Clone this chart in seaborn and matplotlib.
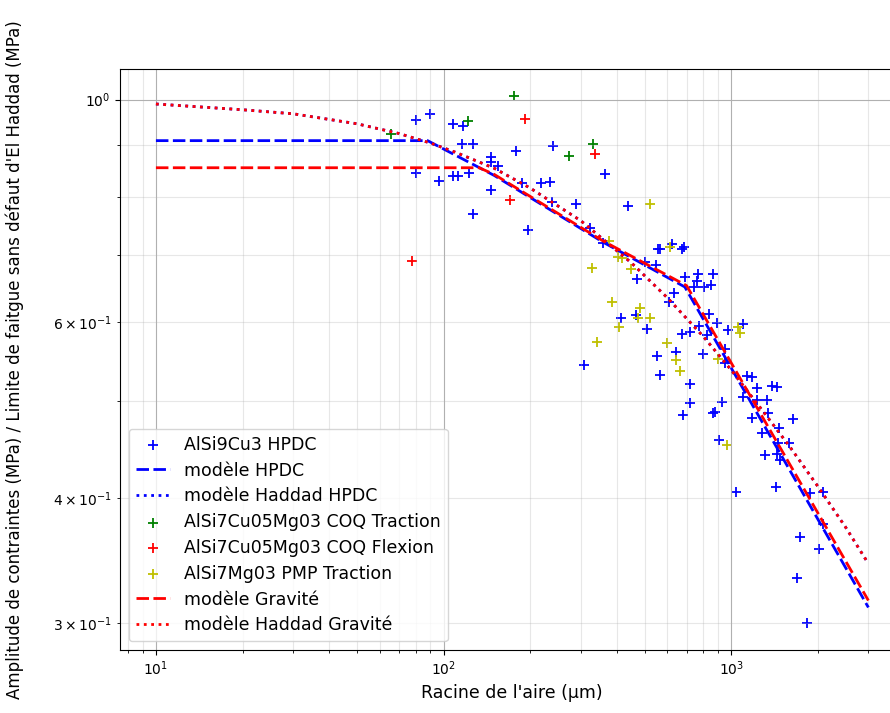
import matplotlib
matplotlib.use('Agg')
import matplotlib.pyplot as plt
import seaborn as sns
import pandas as pd

# Points expérimentaux : racine de l'aire (µm) et contrainte normalisée
hpdc_x = [80.5, 89.4, 107.5, 117.3, 115.5, 126.1, 80.0, 96.1, 107.5, 112.7,
          123.0, 146.8, 146.8, 155.2, 146.8, 127.1, 179.3, 188.0, 218.8, 235.3,
          241.0, 238.9, 289.7, 197.3, 365.2, 323.6, 359.5, 438.7, 557.9, 567.0,
          623.7, 676.0, 687.0, 502.5, 549.4, 471.8, 692.0, 767.7, 865.9, 762.0,
          744.3, 805.4, 852.2, 634.0, 609.5, 415.0, 467.7, 511.0, 839.0, 894.0,
          977.0, 1101, 676.0, 720.0, 774.0, 825.0, 799.0, 644.0, 553.0, 309.0,
          567.0, 720.0, 720.0, 681.0, 866.0, 880.0, 930.0, 953.0, 1137, 1183,
          1231, 1101, 1183, 953.0, 908.0, 1040, 1231, 1334, 1388, 1445,
          1343, 1282, 1468, 1641, 1589, 1456, 1445, 1479, 1312, 1433,
          1880, 2086, 2086, 1738, 2021, 1694, 1836]
hpdc_y = [0.955, 0.968, 0.946, 0.942, 0.904, 0.904, 0.845, 0.830, 0.839, 0.838,
          0.845, 0.877, 0.867, 0.859, 0.813, 0.769, 0.889, 0.826, 0.826, 0.828,
          0.898, 0.791, 0.787, 0.741, 0.843, 0.745, 0.719, 0.783, 0.710, 0.710,
          0.718, 0.710, 0.713, 0.689, 0.684, 0.662, 0.665, 0.670, 0.670, 0.659,
          0.650, 0.650, 0.653, 0.641, 0.628, 0.605, 0.610, 0.590, 0.611, 0.598,
          0.589, 0.597, 0.583, 0.586, 0.594, 0.582, 0.557, 0.560, 0.555, 0.543,
          0.531, 0.520, 0.498, 0.484, 0.486, 0.487, 0.499, 0.564, 0.530, 0.528,
          0.515, 0.505, 0.481, 0.546, 0.457, 0.406, 0.501, 0.501, 0.518, 0.516,
          0.486, 0.465, 0.470, 0.480, 0.454, 0.454, 0.443, 0.437, 0.442, 0.410,
          0.405, 0.406, 0.377, 0.366, 0.356, 0.333, 0.300]

coq_trac_x = [65.5, 121.2, 176.4, 273.8, 331.7]
coq_trac_y = [0.923, 0.951, 1.009, 0.879, 0.904]

coq_flex_x = [77.4, 192.6, 170.9, 337.2]
coq_flex_y = [0.690, 0.957, 0.793, 0.883]

pmp_x = [523.4, 377.0, 405.0, 418.0, 329.0, 449.5, 614.0, 386.0, 483.0, 475.0,
         523.0, 408.0, 342.5, 600.0, 644.0, 665.0, 1058, 1075, 901.0, 969.0]
pmp_y = [0.787, 0.723, 0.697, 0.695, 0.679, 0.678, 0.713, 0.628, 0.619, 0.605,
         0.605, 0.593, 0.573, 0.571, 0.550, 0.536, 0.593, 0.585, 0.551, 0.452]

# Modèles
mod_hpdc_x = [10, 88, 150, 360, 690, 3000]
mod_hpdc_y = [0.910, 0.910, 0.840, 0.720, 0.650, 0.311]
mod_grav_x = [10, 133, 150, 360, 700, 3000]
mod_grav_y = [0.855, 0.855, 0.842, 0.722, 0.652, 0.316]

haddad_x = [10, 20, 30, 50, 70, 90, 110, 150, 200, 300, 450, 600, 800,
            1000, 1300, 1600, 2000, 2500, 3000]
haddad_y = [0.990, 0.977, 0.968, 0.946, 0.925, 0.905, 0.886, 0.854, 0.816,
            0.757, 0.687, 0.634, 0.580, 0.537, 0.487, 0.450, 0.411, 0.374, 0.344]

fig = plt.figure(figsize=(8.9, 7.13), dpi=100)
ax = fig.add_axes([120/890, 63/713, 784/890, 581/713])
ax.set_xscale('log')
ax.set_yscale('log')

dash = (0, (4.5, 1.6))
lw = 2.0
pts = dict(marker='+', s=55, linewidth=1.3, ax=ax)

sns.scatterplot(x=hpdc_x, y=hpdc_y, color='b', label='AlSi9Cu3 HPDC', **pts)
sns.lineplot(x=mod_hpdc_x, y=mod_hpdc_y, color='b', linestyle=dash, linewidth=lw,
             label='modèle HPDC', ax=ax)
sns.lineplot(x=haddad_x, y=haddad_y, color='b', linestyle=':', linewidth=lw,
             label='modèle Haddad HPDC', ax=ax)
sns.scatterplot(x=coq_trac_x, y=coq_trac_y, color='g',
                label='AlSi7Cu05Mg03 COQ Traction', **pts)
sns.scatterplot(x=coq_flex_x, y=coq_flex_y, color='r',
                label='AlSi7Cu05Mg03 COQ Flexion', **pts)
sns.scatterplot(x=pmp_x, y=pmp_y, color='y', label='AlSi7Mg03 PMP Traction', **pts)
sns.lineplot(x=mod_grav_x, y=mod_grav_y, color='r', linestyle=dash, linewidth=lw,
             label='modèle Gravité', ax=ax)
sns.lineplot(x=haddad_x, y=haddad_y, color='r', linestyle=':', linewidth=lw,
             label='modèle Haddad Gravité', ax=ax)

ax.set_xlim(7.5, 3990)
ax.set_ylim(0.282, 1.073)
ax.grid(True, which='major')
ax.grid(True, which='minor', alpha=0.3)
ax.set_xlabel("Racine de l'aire (µm)", fontsize=12.5)
ax.set_ylabel("Amplitude de contraintes (MPa) / Limite de faitgue sans défaut d'El Haddad (MPa)",
              fontsize=12)
ax.yaxis.set_label_coords(-0.122, 0.5)
ax.legend(loc='lower left', fontsize=12.5, labelspacing=0.45)

fig.savefig('out.png', dpi=100)
